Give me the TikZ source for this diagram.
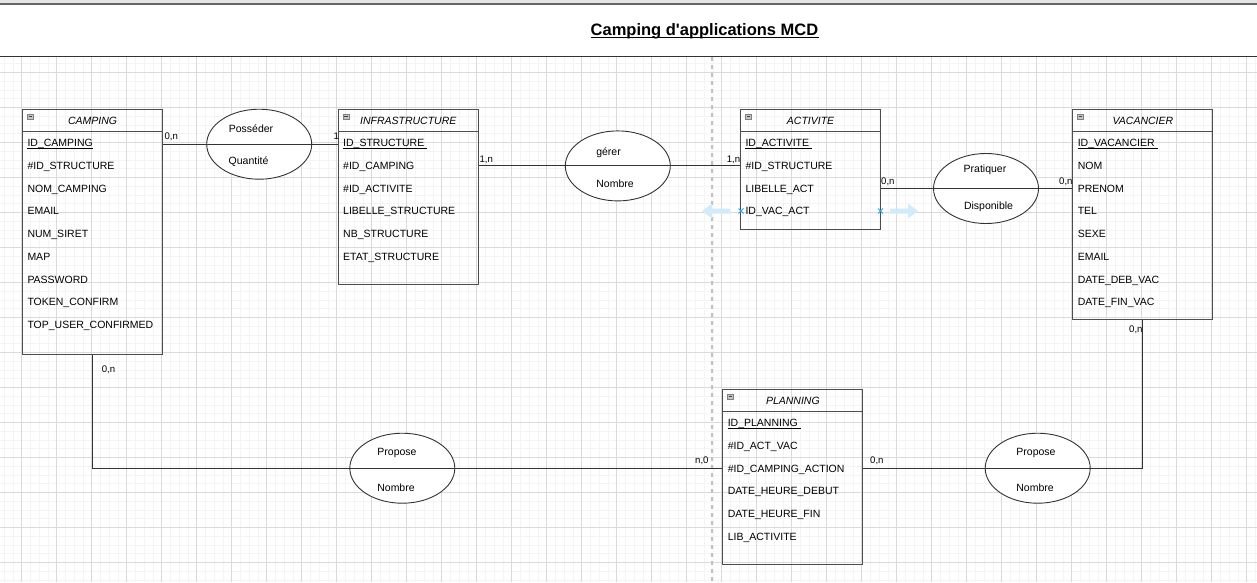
\documentclass[tikz,border=0pt]{standalone}
\usepackage{fontspec}
\setmainfont{Liberation Sans}
\usetikzlibrary{shapes.geometric,calc}
\definecolor{linec}{HTML}{333333}
\definecolor{boxc}{HTML}{4D4D4D}
\definecolor{gridmaj}{HTML}{DADADA}
\definecolor{gridmin}{HTML}{F4F4F4}
\definecolor{hoverblue}{HTML}{D3EAF8}
\definecolor{markblue}{HTML}{2FA4DD}
\definecolor{iconfill}{HTML}{C4C4C4}
\tikzset{
  entbox/.style={draw=boxc, line width=1.1pt, rectangle, anchor=north west, minimum width=140pt, inner sep=0pt},
  boxline/.style={draw=boxc, line width=1.1pt},
  attr/.style={inner sep=0pt, font=\fontsize{10.5}{12}\selectfont},
  enttitle/.style={inner sep=0pt, font=\fontsize{10.5}{12}\selectfont\itshape},
  card/.style={inner sep=0pt, anchor=base west, font=\fontsize{9.6}{11}\selectfont},
  conn/.style={draw=linec, line width=1.1pt},
  rel/.style={ellipse, draw=linec, line width=0.9pt, fill=white, minimum width=105pt, minimum height=70pt, inner sep=0pt},
  relline/.style={draw=linec, line width=1pt},
  reltext/.style={inner sep=0pt, anchor=base, font=\fontsize{10.5}{12}\selectfont},
  gridminor/.style={draw=gridmin, line width=0.6pt},
  gridmajor/.style={draw=gridmaj, line width=0.8pt},
}
\newcommand\mcdentity[7]{%
  \node[entbox, minimum height={(#4-#3)*1pt}] (#1) at (#2,#3) {};
  \draw[boxline] ($(#1.north west)+(0,22.4)$) -- ($(#1.north east)+(0,22.4)$);
  \draw[draw=gray, fill=iconfill, line width=0.4pt] ($(#1.north west)+(5.3,5)$) rectangle ($(#1.north west)+(11.3,9.7)$);
  \draw[black!75, line width=0.8pt] ($(#1.north west)+(6.5,7.35)$) -- ($(#1.north west)+(10.1,7.35)$);
  \node[enttitle, anchor=base] (#1-title) at ($(#1.north)+(0,14.8)$) {#5};
  \node[attr, anchor=base west] (#1-key) at ($(#1.north west)+(5.3,37.2)$) {#6};
  \draw[black, line width=0.7pt] ($(#1-key.base west)+(0,1.6)$) -- ($(#1-key.base east)+(0,1.6)$);
  \foreach \rowtext [count=\ri] in {#7} {
    \node[attr, anchor=base west] (#1-r\ri) at ($(#1.north west)+(5.3,{37.2+22.75*\ri})$) {\rowtext};
  }
}
\begin{document}
\begin{tikzpicture}[x=1pt,y=-1pt]
\useasboundingbox (0,0) rectangle (1257,582);
\fill[white] (0,0) rectangle (1257,582);
% grid
\foreach \i in {0,...,143} { \draw[gridminor] ({4.2+8.75*\i},57) -- ({4.2+8.75*\i},582); }
\foreach \i in {0,...,59} { \draw[gridminor] (0,{63.55+8.75*\i}) -- (1257,{63.55+8.75*\i}); }
\foreach \i in {0,...,35} { \draw[gridmajor] ({21.7+35*\i},57) -- ({21.7+35*\i},582); }
\foreach \i in {0,...,14} { \draw[gridmajor] (0,{72.3+35*\i}) -- (1257,{72.3+35*\i}); }
% header
\fill[black!10] (0,0) rectangle (1257,3.5);
\fill[white] (0,4) rectangle (1257,56.7);
\draw[black!60, line width=1.3pt] (0,4) -- (1257,4);
\draw[black!80, line width=1pt] (0,56.7) -- (1257,56.7);
\node[inner sep=0pt, anchor=base, font=\fontsize{16.5}{19}\selectfont\bfseries] (title) at (704.5,35.7) {Camping d\textquotesingle applications MCD};
\draw[black, line width=1.1pt] ($(title.base west)+(0,2)$) -- ($(title.base east)+(0,2)$);
% dashed separator
\draw[black!25, line width=1.2pt, dash pattern=on 4pt off 4pt] (712,57) -- (712,582);
% entities
\mcdentity{camping}{22}{109.3}{353.7}{CAMPING}{ID\_CAMPING}{\#ID\_STRUCTURE,NOM\_CAMPING,EMAIL,NUM\_SIRET,MAP,PASSWORD,TOKEN\_CONFIRM,TOP\_USER\_CONFIRMED}
\mcdentity{infra}{337.7}{109.3}{283.7}{INFRASTRUCTURE}{ID\_STRUCTURE\kern2.9pt}{\#ID\_CAMPING,\#ID\_ACTIVITE,LIBELLE\_STRUCTURE,NB\_STRUCTURE,ETAT\_STRUCTURE}
\mcdentity{activite}{740}{109.3}{229.3}{ACTIVITE}{ID\_ACTIVITE\kern2.9pt}{\#ID\_STRUCTURE,LIBELLE\_ACT,ID\_VAC\_ACT}
\mcdentity{vacancier}{1072.3}{109.3}{318.7}{VACANCIER}{ID\_VACANCIER\kern2.9pt}{NOM,PRENOM,TEL,SEXE,EMAIL,DATE\_DEB\_VAC,DATE\_FIN\_VAC}
\mcdentity{planning}{722.3}{389.3}{563.7}{PLANNING}{ID\_PLANNING\kern2.9pt}{\#ID\_ACT\_VAC,\#ID\_CAMPING\_ACTION,DATE\_HEURE\_DEBUT,DATE\_HEURE\_FIN,LIB\_ACTIVITE}
% relations
\node[rel] (posseder) at (259.2,144.2) {};
\node[rel] (gerer) at (617.8,165.9) {};
\node[rel] (pratiquer) at (986,188.5) {};
\node[rel] (proposeL) at (402.3,468.2) {};
\node[rel] (proposeR) at (1037.7,468.2) {};
\foreach \r in {posseder,gerer,pratiquer,proposeL,proposeR} { \draw[relline] (\r.west) -- (\r.east); }
\node[reltext] (posseder-a) at (251,132.7) {Posséder};
\node[reltext] (posseder-b) at (248.5,164.3) {Quantité};
\node[reltext] (gerer-a) at (608.5,155.5) {gérer};
\node[reltext] (gerer-b) at (615,187) {Nombre};
\node[reltext] (pratiquer-a) at (985,172.5) {Pratiquer};
\node[reltext] (pratiquer-b) at (988.5,209.2) {Disponible};
\node[reltext] (proposeL-a) at (397,455.8) {Propose};
\node[reltext] (proposeL-b) at (396,491.5) {Nombre};
\node[reltext] (proposeR-a) at (1036,455.8) {Propose};
\node[reltext] (proposeR-b) at (1035,491.2) {Nombre};
% connectors
\draw[conn] (camping.east |- posseder.west) -- (posseder.west);
\draw[conn] (posseder.east) -- (infra.west |- posseder.east);
\draw[conn] (infra.east |- gerer.west) -- (gerer.west);
\draw[conn] (gerer.east) -- (activite.west |- gerer.east);
\draw[conn] (activite.east |- pratiquer.west) -- (pratiquer.west);
\draw[conn] (pratiquer.east) -- (vacancier.west |- pratiquer.east);
\draw[conn] (camping.south) |- (proposeL.west);
\draw[conn] (proposeL.east) -- (planning.west |- proposeL.east);
\draw[conn] (planning.east |- proposeR.west) -- (proposeR.west);
\draw[conn] (proposeR.east) -| (vacancier.south);
% cardinalities
\node[card] (k1) at (164.3,139) {0,n};
\node[card] (k2) at (333.3,139) {1};
\node[card] (k3) at (479.3,162.3) {1,n};
\node[card] (k4) at (726.7,162.3) {1,n};
\node[card] (k5) at (881,184) {0,n};
\node[card] (k6) at (1059,184) {0,n};
\node[card] (k7) at (101.7,372.3) {0,n};
\node[card] (k8) at (695,463.3) {n,0};
\node[card] (k9) at (870,463.3) {0,n};
\node[card] (k10) at (1129,332) {0,n};
% hover arrows
\fill[hoverblue] (702,211) -- (712,203.5) -- (712,208.5) -- (730,208.5) -- (730,213.5) -- (712,213.5) -- (712,218.5) -- cycle;
\fill[hoverblue] (918,211) -- (908,203.5) -- (908,208.5) -- (890,208.5) -- (890,213.5) -- (908,213.5) -- (908,218.5) -- cycle;
\draw[markblue, line width=0.9pt] (738.5,208.5) -- (743.5,213.5) (738.5,213.5) -- (743.5,208.5);
\draw[markblue, line width=0.9pt] (878,208.5) -- (883,213.5) (878,213.5) -- (883,208.5);
\end{tikzpicture}
\end{document}
